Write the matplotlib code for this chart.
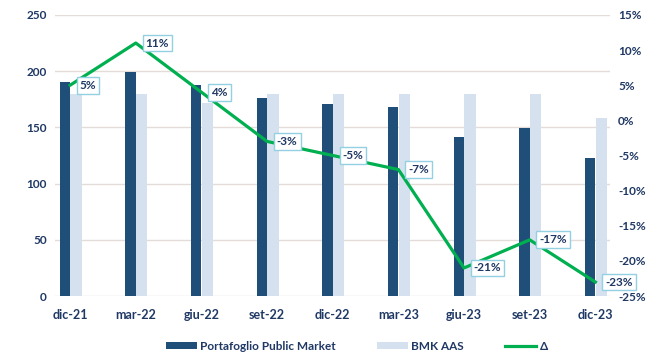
import matplotlib.pyplot as plt
import numpy as np

periods = ['dic-21', 'mar-22', 'giu-22', 'set-22', 'dic-22', 'mar-23', 'giu-23', 'set-23', 'dic-23']
portafoglio = [190, 199, 188, 176, 171, 168, 141, 149, 123]
bmk_aas = [180, 180, 172, 180, 180, 180, 180, 180, 158]
delta = [5, 11, 4, -3, -5, -7, -21, -17, -23]

navy = '#1f4e79'
light = '#d6e1ef'
green = '#00b050'
txt = '#1f3864'

plt.rcParams['font.family'] = ['Lato', 'DejaVu Sans']
plt.rcParams['font.weight'] = 'bold'

fig = plt.figure(figsize=(6.55, 3.55), dpi=100)
ax = fig.add_axes([0.084, 0.166, 0.847, 0.792])
ax2 = ax.twinx()

x = np.arange(len(periods))
ax.bar(x - 0.08, portafoglio, width=0.16, color=navy, label='Portafoglio Public Market', zorder=3)
ax.bar(x + 0.09, bmk_aas, width=0.17, color=light, label='BMK AAS', zorder=2)

ax.set_ylim(0, 250)
ax.set_yticks(range(0, 251, 50))
ax.set_xlim(-0.23, 8.22)
ax.set_xticks(x)
ax.set_xticklabels(periods)
ax.grid(axis='y', color='#e4dcd8', lw=1, zorder=0)
ax.set_axisbelow(True)

ax2.plot(x, delta, color=green, lw=2.3, label='Δ', zorder=5)
ax2.set_ylim(-25, 15)
ax2.set_yticks(range(-25, 16, 5))
ax2.set_yticklabels([f'{v}%' for v in range(-25, 16, 5)])

for xi, d in zip(x, delta):
    ax2.annotate(f'{d}%', (xi, d), xytext=(7, 0), textcoords='offset points',
                 ha='left', va='center', fontsize=8.5, color=txt, fontweight='bold',
                 bbox=dict(boxstyle='square,pad=0.25', fc='white', ec='#93d0e2', lw=1),
                 zorder=6)

for a in (ax, ax2):
    for s in a.spines.values():
        s.set_visible(False)
    a.tick_params(length=0, colors=txt, labelsize=8.5)
ax.tick_params(axis='x', pad=9, labelsize=9)
ax.tick_params(axis='y', pad=6)
ax2.tick_params(axis='y', pad=6)

h1, l1 = ax.get_legend_handles_labels()
h2, l2 = ax2.get_legend_handles_labels()
leg = fig.legend(h1 + h2, l1 + l2, loc='center', bbox_to_anchor=(0.545, 0.025), ncol=3,
                 frameon=False, fontsize=8.5, handlelength=2.6, handleheight=0.45,
                 columnspacing=3.5, handletextpad=0.3)
for t in leg.get_texts():
    t.set_color(txt)

fig.savefig('out.png', dpi=100)
